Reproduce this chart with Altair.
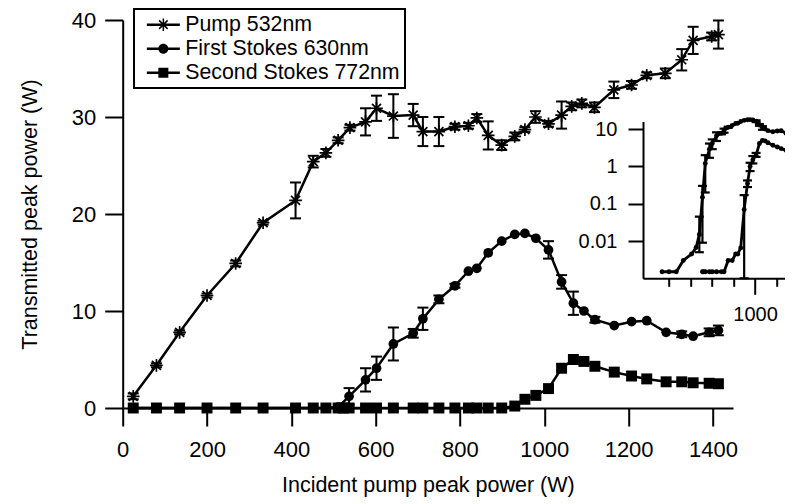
import altair as alt
import pandas as pd

FONT = "Liberation Sans"
SERIES = ["Pump 532nm", "First Stokes 630nm", "Second Stokes 772nm"]

# ---- main panel data (W) ----
pump_x = [25, 80, 135, 200, 268, 333, 410, 452, 482, 511, 539, 576, 602, 642, 689, 712, 750, 788, 820, 840,
          867, 899, 930, 954, 979, 1010, 1041, 1065, 1089, 1119, 1165, 1207, 1243, 1287, 1326, 1353, 1397, 1413]
pump_y = [1.2, 4.4, 7.8, 11.6, 14.9, 19.1, 21.4, 25.4, 26.3, 27.6, 28.9, 29.5, 30.9, 30.1, 30.2, 28.5, 28.5, 29.0,
          29.1, 29.9, 28.1, 27.1, 28.0, 28.7, 30.0, 29.3, 30.2, 31.1, 31.4, 31.0, 32.8, 33.3, 34.3, 34.5, 35.9,
          37.9, 38.3, 38.5]
pump_err = [0.3, 0.2, 0.2, 0.2, 0.3, 0.2, 1.85, 0.6, 0.4, 0.3, 0.3, 1.4, 1.3, 2.25, 1.15, 1.5, 1.5, 0.3, 0.3, 0.4,
            1.45, 0.5, 0.4, 0.25, 0.6, 0.3, 1.4, 0.4, 0.4, 0.5, 0.85, 0.4, 0.3, 0.5, 1.1, 1.4, 0.4, 1.45]

first_x = [25, 80, 135, 200, 268, 333, 410, 452, 482, 511, 537, 576, 602, 642, 689, 712, 750, 788, 820, 840,
           867, 899, 930, 954, 980, 1010, 1041, 1069, 1094, 1120, 1166, 1207, 1243, 1289, 1326, 1353, 1391, 1413]
first_y = [0, 0, 0, 0, 0, 0, 0, 0, 0, 0.1, 1.2, 2.9, 4.1, 6.6, 7.7, 9.2, 11.2, 12.6, 14.1, 14.4,
           16.0, 17.2, 17.9, 18.0, 17.5, 16.3, 13.0, 10.8, 10.0, 9.1, 8.5, 8.9, 9.0, 7.8, 7.6, 7.4, 7.8, 8.0]
first_err = [0, 0, 0, 0, 0, 0, 0, 0, 0, 0, 0.85, 1.2, 1.2, 1.7, 0.45, 1.15, 0.4, 0.2, 0, 0,
             0, 0, 0, 0, 0, 0.9, 0.7, 1.2, 0, 0.3, 0, 0, 0, 0, 0.3, 0, 0.4, 0.5]

second_x = [25, 80, 135, 200, 268, 333, 410, 452, 482, 511, 523, 537, 576, 602, 642, 689, 712, 750, 788, 820,
            840, 867, 899, 930, 954, 980, 1010, 1041, 1069, 1094, 1120, 1166, 1207, 1243, 1289, 1326, 1353, 1391, 1413]
second_y = [0, 0, 0, 0, 0, 0, 0, 0, 0, 0, 0, 0, 0, 0, 0, 0, 0, 0, 0, 0,
            0, 0, 0, 0.2, 0.9, 1.3, 2.0, 4.1, 5.0, 4.8, 4.3, 3.7, 3.3, 3.0, 2.7, 2.7, 2.6, 2.55, 2.5]

# ---- inset data (log scale) ----
inset_first_x = [135, 200, 268, 333, 410, 452, 482, 511, 537, 576, 602, 642, 689, 712, 750, 788, 820, 840, 867, 899,
                 930, 954, 980, 1010, 1041, 1069, 1094, 1120, 1166, 1207, 1243, 1289, 1326, 1353, 1391, 1413]
inset_first_y = [0.0015, 0.0015, 0.0015, 0.003, 0.0045, 0.0067, 0.015, 0.15, 1.2, 2.9, 4.1, 6.6, 7.7, 9.2, 11.2,
                 12.6, 14.1, 14.4, 16.0, 17.2, 17.9, 18.0, 17.5, 16.3, 13.0, 10.8, 10.0, 9.1, 8.5, 8.9, 9.0, 7.8,
                 7.6, 7.4, 7.8, 8.0]
inset_first_err_x = [482, 511, 537, 576, 602, 642, 689, 712, 750, 1010, 1041, 1069]
inset_first_lo = [0.005, 0.009, 0.2, 1.7, 2.9, 4.8, 7.25, 8.0, 10.8, 15.4, 12.3, 9.6]
inset_first_hi = [0.045, 0.3, 2.0, 4.1, 5.3, 8.2, 8.15, 10.3, 11.6, 17.2, 13.7, 12.0]

inset_second_x = [511, 523, 537, 576, 602, 642, 689, 712, 750, 788, 820, 840, 867, 899, 930, 954, 980, 1010, 1041,
                  1069, 1094, 1120, 1166, 1207, 1243, 1289, 1326, 1353, 1391, 1413]
inset_second_y = [0.0015, 0.0015, 0.0015, 0.0015, 0.0015, 0.0015, 0.0015, 0.0015, 0.003, 0.003, 0.0045, 0.0045,
                  0.0065, 0.07, 0.35, 1.0, 1.5, 2.0, 4.1, 5.0, 4.8, 4.3, 3.7, 3.3, 3.0, 2.7, 2.7, 2.6, 2.55, 2.5]
inset_second_err_x = [899, 930, 954, 980, 1010]
inset_second_lo = [0.001, 0.28, 0.75, 1.2, 1.8]
inset_second_hi = [0.17, 0.42, 1.25, 1.9, 2.3]

# ---- frames ----
main_df = pd.concat([
    pd.DataFrame({"x": pump_x, "y": pump_y, "err": pump_err, "series": SERIES[0]}),
    pd.DataFrame({"x": first_x, "y": first_y, "err": first_err, "series": SERIES[1]}),
    pd.DataFrame({"x": second_x, "y": second_y, "err": 0.0, "series": SERIES[2]}),
], ignore_index=True)

inset_df = pd.concat([
    pd.DataFrame({"x": inset_first_x, "y": inset_first_y, "series": "first"}),
    pd.DataFrame({"x": inset_second_x, "y": inset_second_y, "series": "second"}),
], ignore_index=True)
inset_err_df = pd.concat([
    pd.DataFrame({"x": inset_first_err_x, "lo": inset_first_lo, "hi": inset_first_hi}),
    pd.DataFrame({"x": inset_second_err_x, "lo": inset_second_lo, "hi": inset_second_hi}),
], ignore_index=True)

# ---- geometry ----
W, H = 610.3, 388
XMAX = 1447.6

common_axis = dict(domainColor="black", domainWidth=2, tickColor="black", tickWidth=2,
                   labelColor="black", labelFont=FONT, titleFont=FONT, titleColor="black",
                   titleFontWeight="normal", grid=False, labelFlush=False, labelOverlap=False)

x_axis = alt.Axis(values=list(range(0, 1401, 200)), format="d", title="Incident pump peak power (W)", tickSize=18,
                  labelPadding=13, labelFontSize=22, titleFontSize=21.5, titlePadding=14, **common_axis)
y_axis = alt.Axis(values=[0, 10, 20, 30, 40], format="d", title="Transmitted peak power (W)", tickSize=18,
                  labelPadding=9, labelFontSize=22, titleFontSize=21.5, titlePadding=30, **common_axis)
x_scale = alt.Scale(domain=[0, XMAX], nice=False, zero=False)
y_scale = alt.Scale(domain=[0, 40], nice=False, zero=False)


def X(field="x"):
    return alt.X(f"{field}:Q", scale=x_scale, axis=x_axis)


def Y(field="y"):
    return alt.Y(f"{field}:Q", scale=y_scale, axis=y_axis)


base = alt.Chart(main_df)

lines = base.mark_line(color="black", strokeWidth=2.5).encode(x=X(), y=Y(), detail="series:N")

err_base = base.transform_filter("datum.err > 0").transform_calculate(
    lo="datum.y - datum.err", hi="datum.y + datum.err")
err_rule = err_base.mark_rule(color="black", strokeWidth=2).encode(x=X(), y=Y("lo"), y2="hi:Q")
err_lo = err_base.mark_tick(color="black", orient="horizontal", size=11, thickness=2, opacity=1).encode(
    x=X(), y=Y("lo"))
err_hi = err_base.mark_tick(color="black", orient="horizontal", size=11, thickness=2, opacity=1).encode(
    x=X(), y=Y("hi"))

ASTERISK = "M0,-1L0,1M-1,0L1,0M-0.71,-0.71L0.71,0.71M-0.71,0.71L0.71,-0.71"
pts_pump = base.transform_filter(alt.datum.series == SERIES[0]).mark_point(
    shape=ASTERISK, size=160, filled=False, stroke="black", strokeWidth=1.7, opacity=1).encode(x=X(), y=Y())
pts_first = base.transform_filter(alt.datum.series == SERIES[1]).mark_point(
    shape="circle", size=95, filled=True, color="black", opacity=1).encode(x=X(), y=Y())
pts_second = base.transform_filter(alt.datum.series == SERIES[2]).mark_point(
    shape="square", size=120, filled=True, color="black", opacity=1).encode(x=X(), y=Y())

# legend glyphs: a short line with the marker, all as filled clockwise polygons
LINE_BAR = "M-3.3,-0.25L3.3,-0.25L3.3,0.25L-3.3,0.25Z"
LEG_PUMP = (LINE_BAR + "M-0.15,-1.25L0.15,-1.25L0.15,1.25L-0.15,1.25Z"
            "M-0.744,-0.956L0.956,0.744L0.744,0.956L-0.956,-0.744Z"
            "M-0.956,0.744L0.744,-0.956L0.956,-0.744L-0.744,0.956Z")
LEG_CIRC = LINE_BAR + "M1,0A1,1,0,1,1,-1,0A1,1,0,1,1,1,0Z"
LEG_SQ = LINE_BAR + "M-1,-1L1,-1L1,1L-1,1Z"

legend_layer = base.transform_filter("datum.x < -1000").mark_point(
    filled=True, color="black", opacity=1).encode(
    x=X(), y=Y(),
    shape=alt.Shape("series:N",
                    scale=alt.Scale(domain=SERIES, range=[LEG_PUMP, LEG_CIRC, LEG_SQ]),
                    legend=alt.Legend(title=None, orient="none", legendX=11.3, legendY=-11,
                                      strokeColor="black", padding=5, rowPadding=2,
                                      symbolSize=100, symbolOffset=13.7, labelOffset=11.3,
                                      symbolFillColor="black", symbolOpacity=1,
                                      labelFont=FONT, labelFontSize=21.3, labelColor="black",
                                      labelLimit=400)))

main = alt.layer(lines, err_rule, err_lo, err_hi, pts_first, pts_second, pts_pump, legend_layer)

# ---- inset ----
IX0, IX1 = 520.3, 680.7
IY0, IY1 = 258.3, 101.5
ix_axis = alt.Axis(orient="bottom", offset=-(H - IY0), values=list(range(200, 1401, 200)),
                   labelExpr="datum.value == 1000 ? '1000' : ''", title=None,
                   tickSize={"condition": {"test": "datum.value == 1000", "value": 16}, "value": 8},
                   labelPadding=10, labelFontSize=20, **common_axis)
iy_axis = alt.Axis(orient="left", offset=-IX0, values=[0.01, 0.1, 1, 10], format="~g", title=None,
                   tickSize=15, labelPadding=11, labelFontSize=20, **common_axis)
ix_scale = alt.Scale(domain=[-42, 1450], range=[IX0, IX1], nice=False, zero=False)
iy_scale = alt.Scale(type="log", domain=[0.001, 16], range=[IY0, IY1], nice=False)


def IX(field="x"):
    return alt.X(f"{field}:Q", scale=ix_scale, axis=ix_axis)


def IY(field="y"):
    return alt.Y(f"{field}:Q", scale=iy_scale, axis=iy_axis)


ibase = alt.Chart(inset_df)
i_lines = ibase.mark_line(color="black", strokeWidth=2.8).encode(x=IX(), y=IY(), detail="series:N")
i_pts = ibase.mark_point(shape="circle", size=24, filled=True, color="black", opacity=1).encode(x=IX(), y=IY())
iebase = alt.Chart(inset_err_df)
i_rule = iebase.mark_rule(color="black", strokeWidth=2.2).encode(x=IX(), y=IY("lo"), y2="hi:Q")
i_lo = iebase.mark_tick(color="black", orient="horizontal", size=9, thickness=2.2, opacity=1).encode(
    x=IX(), y=IY("lo"))
i_hi = iebase.mark_tick(color="black", orient="horizontal", size=9, thickness=2.2, opacity=1).encode(
    x=IX(), y=IY("hi"))

inset = alt.layer(i_lines, i_rule, i_lo, i_hi, i_pts)

chart = alt.layer(main, inset).resolve_scale(x="independent", y="independent").properties(
    width=W, height=H,
    autosize=alt.AutoSizeParams(type="none"),
    padding={"left": 114.7, "top": 12, "right": 52, "bottom": 96},
).configure_view(stroke=None).configure_legend(strokeWidth=2)

chart.save("out.html", embed_options={"renderer": "svg", "actions": False})
